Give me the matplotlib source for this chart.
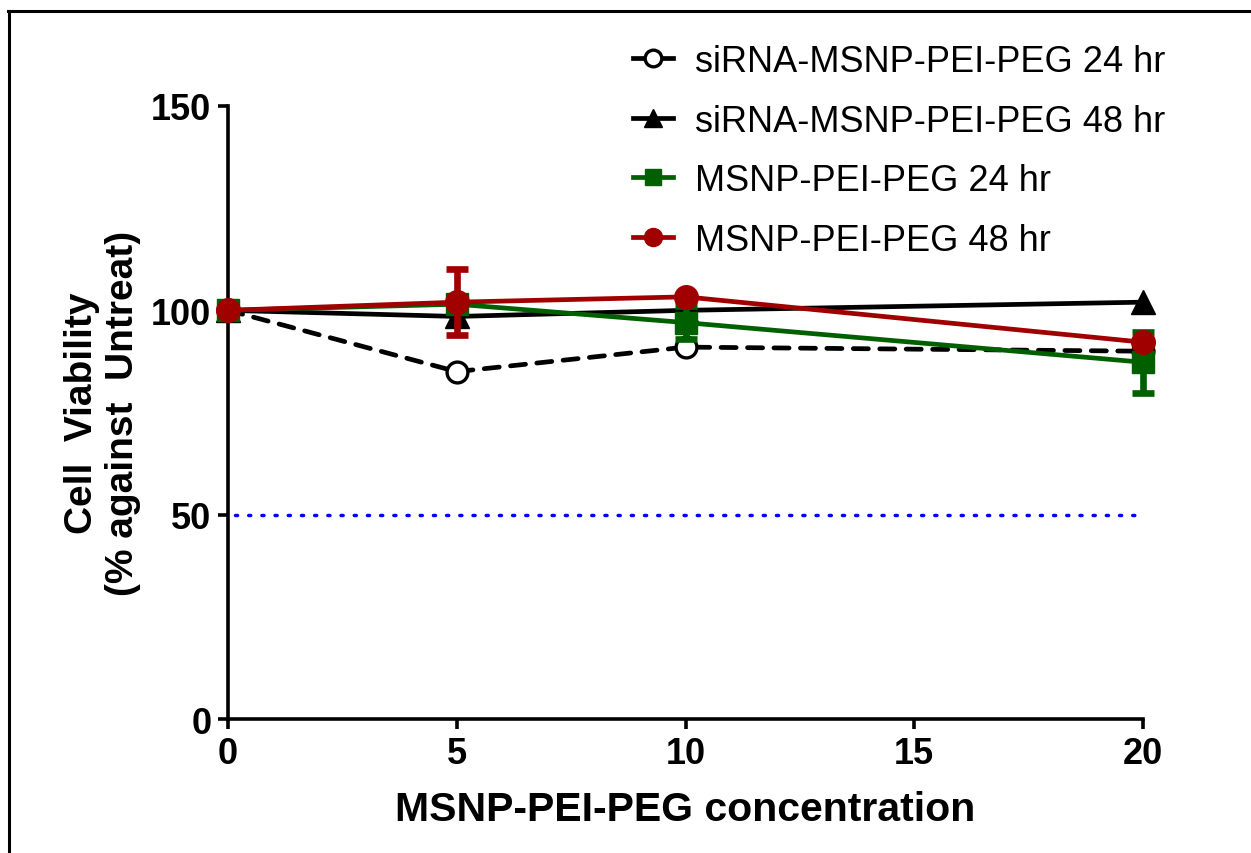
import matplotlib
matplotlib.use("Agg")
import matplotlib.pyplot as plt
from matplotlib.lines import Line2D

plt.rcParams.update(
    {
        "font.family": ["Liberation Sans", "DejaVu Sans"],
        "axes.linewidth": 2.6,
        "xtick.major.width": 2.6,
        "ytick.major.width": 2.6,
        "xtick.major.size": 7,
        "ytick.major.size": 7,
    }
)

# Data
conc = [0, 5, 10, 20]
sirna_24 = [100, 85, 91, 90]
sirna_48 = [100, 98.5, 100, 102]
msnp_24 = [100, 101.5, 97, 87.3]
msnp_24_err = [0, 0, 4, 7.5]
msnp_48 = [100, 102, 103.3, 92.2]
msnp_48_err = [0, 8, 0, 0]
ic50_line = 50

labels = [
    "siRNA-MSNP-PEI-PEG 24 hr",
    "siRNA-MSNP-PEI-PEG 48 hr",
    "MSNP-PEI-PEG 24 hr",
    "MSNP-PEI-PEG 48 hr",
]
green = "#006000"
red = "#a00000"

fig = plt.figure(figsize=(12.51, 8.54), dpi=100)
ax = fig.add_axes([228 / 1251, 1 - 720 / 854, 915 / 1251, 613 / 854])

ax.axhline(ic50_line, xmin=0.008, xmax=1, color="blue", ls=(0, (0.6, 3.2)),
           lw=2.5, dash_capstyle="round", zorder=1)

h1, = ax.plot(conc, sirna_24, color="black", lw=3.4, ls=(0, (3.2, 2.4)),
              dash_capstyle="round", marker="o", ms=15, mfc="white", mec="black",
              mew=2.4, clip_on=False, zorder=2)
h2, = ax.plot(conc, sirna_48, color="black", lw=3.4, marker="^", ms=17,
              clip_on=False, zorder=3)
e3 = ax.errorbar(conc, msnp_24, yerr=msnp_24_err, color=green, lw=3.4, marker="s",
                 ms=16, elinewidth=4.8, capsize=8, capthick=4.8, clip_on=False,
                 zorder=4)
e4 = ax.errorbar(conc, msnp_48, yerr=msnp_48_err, color=red, lw=3.4, marker="o",
                 ms=17, elinewidth=4.8, capsize=8, capthick=4.8, clip_on=False,
                 zorder=5)
for art in e3.lines[1] + e3.lines[2] + e4.lines[1] + e4.lines[2]:
    art.set_clip_on(False)

ax.set_xlim(0, 20)
ax.set_ylim(0, 150)
ax.set_xticks([0, 5, 10, 15, 20])
ax.set_yticks([0, 50, 100, 150])
ax.spines["top"].set_visible(False)
ax.spines["right"].set_visible(False)
ax.tick_params(labelsize=26, pad=5)
for lab in ax.get_xticklabels() + ax.get_yticklabels():
    lab.set_fontweight("bold")

ax.set_xlabel("MSNP-PEI-PEG concentration", fontsize=29.5, fontweight="bold",
              labelpad=14)
ax.set_ylabel("Cell  Viability\n(% against  Untreat)", fontsize=28,
              fontweight="bold", labelpad=7, linespacing=1.2)

# legend
hl1 = Line2D([], [], color="black", lw=3.4, marker="o", ms=12, mfc="white",
             mec="black", mew=2.4)
hl2 = Line2D([], [], color="black", lw=3.4, marker="^", ms=13)
hl3 = Line2D([], [], color=green, lw=3.4, marker="s", ms=12)
hl4 = Line2D([], [], color=red, lw=3.4, marker="o", ms=13)
fig.legend([hl1, hl2, hl3, hl4], labels, loc="upper left",
           bbox_to_anchor=(633 / 1251, 1 - 45 / 854), frameon=False,
           fontsize=26, handlelength=1.12, handletextpad=0.6, labelspacing=0.68,
           borderpad=0, borderaxespad=0)

# partial frame around the figure
fig.add_artist(Line2D([8 / 1251, 1], [1 - 12 / 854, 1 - 12 / 854],
                      transform=fig.transFigure, color="black", lw=2.2))
fig.add_artist(Line2D([9 / 1251, 9 / 1251], [0, 1 - 12 / 854],
                      transform=fig.transFigure, color="black", lw=2.2))

fig.savefig("out.png", dpi=100)
